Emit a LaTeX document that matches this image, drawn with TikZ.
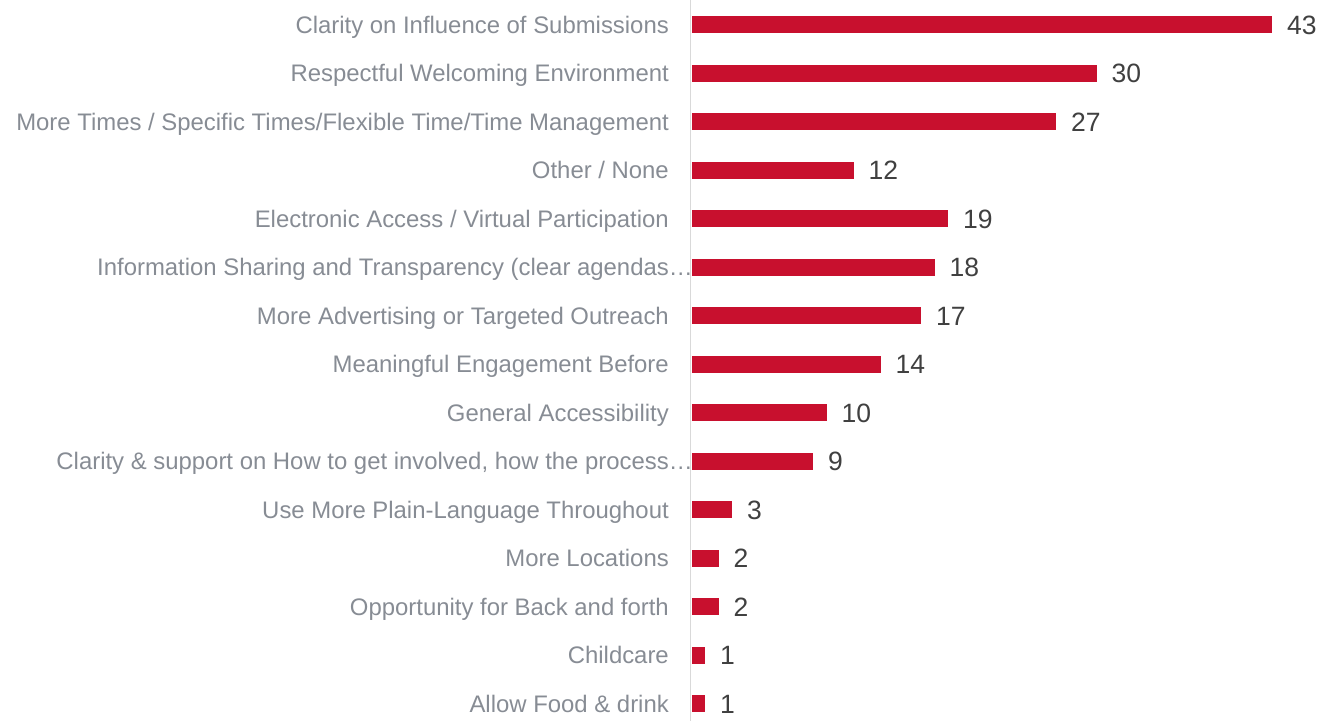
\documentclass[tikz,border=0pt]{standalone}
\usepackage{fontspec}
\setmainfont{Liberation Sans}
\definecolor{barred}{HTML}{C8102E}
\definecolor{labgray}{HTML}{878C94}
\definecolor{valgray}{HTML}{404040}
\definecolor{axisgray}{HTML}{D9D9D9}
\newcommand\chartrow[4]{%
  \pgfmathsetmacro\yc{24.6+48.5*#1}%
  \pgfmathsetmacro\xe{691.5+13.5*#3}%
  \fill[barstyle] (691.5,\yc-8.5) rectangle (\xe,\yc+8.5);
  \node[lab] (l#1) at (#4,\yc+8.8) {#2};
  \node[val] (v#1) at (\xe+15,\yc+9.4) {#3};
}
\begin{document}
\begin{tikzpicture}[x=1pt,y=-1pt,
  lab/.style={anchor=base east, text=labgray, font=\fontsize{23.9}{28}\selectfont, inner sep=0pt},
  val/.style={anchor=base west, text=valgray, font=\fontsize{26.5}{30}\selectfont, inner sep=0pt},
  barstyle/.style={fill=barred, draw=none}]
\useasboundingbox (0,0) rectangle (1330,721);
\draw[axisgray, line width=1.5pt] (690.5,0) -- (690.5,721);
\chartrow{0}{Clarity on Influence of Submissions}{43}{669}
\chartrow{1}{Respectful Welcoming Environment}{30}{669}
\chartrow{2}{More Times / Specific Times/Flexible Time/Time Management}{27}{669}
\chartrow{3}{Other / None}{12}{669}
\chartrow{4}{Electronic Access / Virtual Participation}{19}{669}
\chartrow{5}{Information Sharing and Transparency (clear agendas…}{18}{693}
\chartrow{6}{More Advertising or Targeted Outreach}{17}{669}
\chartrow{7}{Meaningful Engagement Before}{14}{669}
\chartrow{8}{General Accessibility}{10}{669}
\chartrow{9}{Clarity \& support on How to get involved, how the process…}{9}{693}
\chartrow{10}{Use More Plain-Language Throughout}{3}{669}
\chartrow{11}{More Locations}{2}{669}
\chartrow{12}{Opportunity for Back and forth}{2}{669}
\chartrow{13}{Childcare}{1}{669}
\chartrow{14}{Allow Food \& drink}{1}{669}
\end{tikzpicture}
\end{document}
